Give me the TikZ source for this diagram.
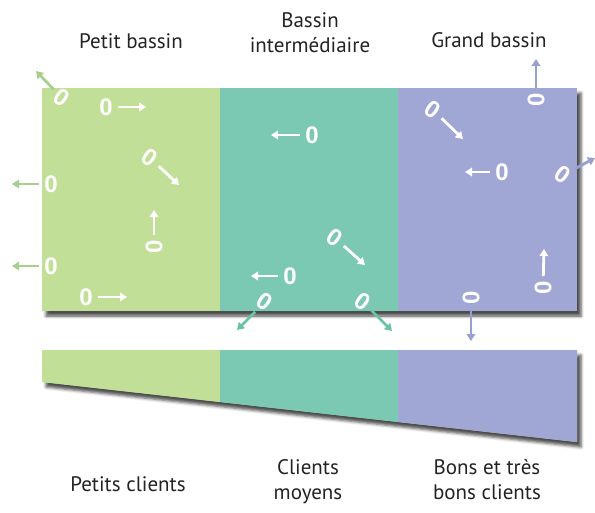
\documentclass[tikz,border=0pt]{standalone}
\usepackage{fontspec}
\setmainfont{PT Sans}
\newfontfamily\zerofont{Liberation Sans}
\usetikzlibrary{arrows.meta,shadows.blur}
\definecolor{pgreen}{RGB}{194,223,152}
\definecolor{pteal}{RGB}{124,201,179}
\definecolor{ppurple}{RGB}{160,167,213}
\definecolor{agreen}{RGB}{168,207,142}
\definecolor{ateal}{RGB}{108,193,169}
\definecolor{apurple}{RGB}{152,160,208}
\definecolor{txt}{RGB}{35,35,35}
\begin{document}
\begin{tikzpicture}[x=1pt,y=-1pt,
  zero/.style={inner sep=0pt,text=white,font=\zerofont\bfseries\fontsize{24}{24}\selectfont},
  tilt/.style={zero,rotate=-35},
  lying/.style={zero,rotate=90},
  flow/.style={line width=2.8pt,shorten <=5pt,-{Triangle[length=7pt,width=8.5pt]}},
  wflow/.style={flow,white},
  label/.style={text=txt,font=\fontsize{21}{25}\selectfont,align=center,inner sep=0pt}]
\useasboundingbox (0,0) rectangle (595,512);

% main basin with shadow
\fill[pgreen,blur shadow={shadow xshift=4pt,shadow yshift=-5pt,shadow blur radius=3pt,shadow opacity=70}] (42,88) rectangle (577,311);
\fill[pgreen] (42,88) rectangle (220,311);
\fill[pteal] (220,88) rectangle (398,311);
\fill[ppurple] (398,88) rectangle (577,311);

% lower bar with shadow
\fill[pgreen,blur shadow={shadow xshift=4pt,shadow yshift=-5pt,shadow blur radius=3pt,shadow opacity=70}] (42,350) -- (577,350) -- (577,442) -- (42,382) -- cycle;
\fill[pgreen] (42,350) -- (220,350) -- (220,402) -- (42,382) -- cycle;
\fill[pteal] (220,350) -- (398,350) -- (398,422) -- (220,402) -- cycle;
\fill[ppurple] (398,350) -- (577,350) -- (577,442) -- (398,422) -- cycle;

% titles (base = baseline of last line)
\node[label,anchor=base] (t1) at (131,48) {Petit bassin};
\node[label,anchor=base] (t2) at (310,52) {Bassin\\intermédiaire};
\node[label,anchor=base] (t3) at (489,47) {Grand bassin};
\node[label,anchor=base] (b1) at (128,491) {Petits clients};
\node[label,anchor=base] (b2) at (308,499) {Clients\\moyens};
\node[label,anchor=base] (b3) at (487,499) {Bons et très\\bons clients};

% zeros
\node[tilt]  (z1) at (62,98) {0};
\node[zero]  (z2) at (106,107) {0};
\node[tilt]  (z3) at (150,158) {0};
\node[lying] (z4) at (154,247) {0};
\node[zero]  (z5) at (51,184) {0};
\node[zero]  (z6) at (51,266) {0};
\node[zero]  (z7) at (86,297) {0};
\node[zero]  (z8) at (312,135) {0};
\node[tilt]  (z9) at (335,238) {0};
\node[zero]  (z10) at (290,276) {0};
\node[tilt]  (z11) at (265,302) {0};
\node[tilt]  (z12) at (363,302) {0};
\node[lying] (z13) at (536,100) {0};
\node[tilt]  (z14) at (433,110) {0};
\node[zero]  (z15) at (502,172) {0};
\node[tilt]  (z16) at (563,175) {0};
\node[lying] (z17) at (543,288) {0};
\node[lying] (z18) at (471,298) {0};

% arrow tips
\coordinate (e1) at (36,71);
\coordinate (e2) at (146,107);
\coordinate (e3) at (179,185);
\coordinate (e4) at (154,210);
\coordinate (e5) at (12,184);
\coordinate (e6) at (12,266);
\coordinate (e7) at (127,297);
\coordinate (e8) at (271,135);
\coordinate (e9) at (365,265);
\coordinate (e10) at (251,276);
\coordinate (e11) at (237,330);
\coordinate (e12) at (392,331);
\coordinate (e13) at (536,59);
\coordinate (e14) at (463,139);
\coordinate (e15) at (465,172);
\coordinate (e16) at (595,158);
\coordinate (e17) at (544,249);
\coordinate (e18) at (471,341);

% arrows
\draw[flow,agreen] (z1) -- (e1);
\draw[wflow] (z2) -- (e2);
\draw[wflow] (z3) -- (e3);
\draw[wflow] (z4) -- (e4);
\draw[flow,agreen] (z5) -- (e5);
\draw[flow,agreen] (z6) -- (e6);
\draw[wflow] (z7) -- (e7);
\draw[wflow] (z8) -- (e8);
\draw[wflow] (z9) -- (e9);
\draw[wflow] (z10) -- (e10);
\draw[flow,ateal] (z11) -- (e11);
\draw[flow,ateal] (z12) -- (e12);
\draw[flow,apurple] (z13) -- (e13);
\draw[wflow] (z14) -- (e14);
\draw[wflow] (z15) -- (e15);
\draw[flow,apurple] (z16) -- (e16);
\draw[wflow] (z17) -- (e17);
\draw[flow,apurple] (z18) -- (e18);
\end{tikzpicture}
\end{document}
